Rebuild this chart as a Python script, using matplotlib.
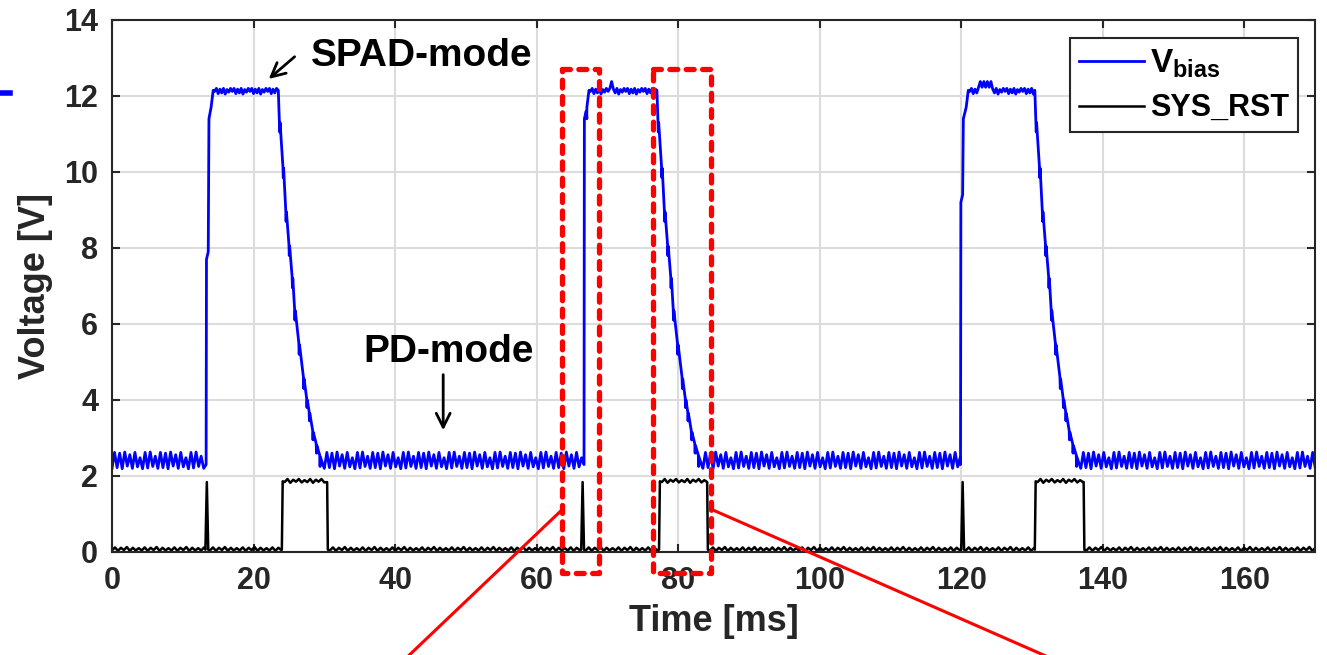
import numpy as np
import matplotlib.pyplot as plt
from matplotlib.lines import Line2D

plt.rcParams['font.family'] = ['Liberation Sans', 'DejaVu Sans']
plt.rcParams['mathtext.fontset'] = 'custom'
plt.rcParams['mathtext.bf'] = 'Liberation Sans:bold'
plt.rcParams['mathtext.rm'] = 'Liberation Sans:bold'

# ---- values (time in ms, voltage in V) ----
# V_bias pulses
pulse_rise = [13.3, 66.7, 119.9]      # rising edge
rise_step = [7.7, 11.4, 9.2]          # intermediate step on the rising edge
top_start = [14.3, 67.4, 121.0]
top_end = [23.5, 77.0, 130.4]
# falling edge shape (relative to top_end)
fall_dt = [0.0, 0.15, 0.2, 0.25, 0.65, 0.7, 0.75, 1.05, 1.1, 1.15, 1.5, 1.55, 1.6,
           1.95, 2.0, 2.05, 2.3, 2.35, 2.4, 2.9, 2.95, 3.0, 3.55, 3.6, 3.65, 4.0,
           4.05, 4.1, 4.35, 4.4, 4.45, 4.85, 4.9, 4.95, 5.35, 5.4, 5.45, 5.85,
           5.9, 5.95, 6.3]
fall_v = [12.15, 11.35, 11.05, 11.3, 10.15, 9.85, 10.1, 9.0, 8.7, 8.95, 8.1, 7.8,
          8.05, 7.25, 6.95, 7.2, 6.4, 6.1, 6.35, 5.5, 5.2, 5.45, 4.6, 4.3, 4.55,
          4.05, 3.8, 4.0, 3.7, 3.45, 3.65, 3.2, 2.95, 3.15, 2.85, 2.6, 2.8, 2.55,
          2.25, 2.5, 2.3]
vb_low_ripple = [2.2, 2.62, 2.22, 2.6, 2.19, 2.63, 2.26, 2.56, 2.2, 2.62, 2.24,
                 2.48, 2.19, 2.62, 2.21, 2.63, 2.25, 2.52]
vb_top_ripple = [12.12, 12.2, 12.06, 12.18, 12.08, 12.2, 12.05, 12.17, 12.1, 12.2]
vb_top_bump = [None, (70.4, 70.7, 12.38), (122.4, 124.2, 12.38)]

# SYS_RST
rst_spike = [13.4, 66.5, 120.2]
spike_h = 1.84
rst_on = [24.0, 77.3, 130.4]
rst_off = [30.5, 84.2, 137.4]
rst_low_ripple = [0.04, 0.12, 0.03, 0.11, 0.05, 0.13, 0.03, 0.11, 0.04, 0.1]
rst_high_ripple = [1.84, 1.92, 1.82, 1.9, 1.85, 1.92, 1.83, 1.89]

t_end = 170


def ripple(t0, t1, step, pattern):
    t = np.arange(t0, t1, step)
    return list(t), list(np.resize(pattern, len(t)))


# build V_bias trace
vt, vv = [], []
t_prev = 0.0
for i in range(3):
    a, b = ripple(t_prev, pulse_rise[i], 0.36, vb_low_ripple)
    vt += a; vv += b
    r = pulse_rise[i]
    vt += [r, r + 0.05, r + 0.3, r + 0.4, top_start[i] - 0.3, top_start[i]]
    vv += [2.3, rise_step[i], rise_step[i] + 0.2, 11.4, 11.7, 12.15]
    a, b = ripple(top_start[i] + 0.2, top_end[i], 0.25, vb_top_ripple)
    if vb_top_bump[i] is not None:
        b0, b1, bh = vb_top_bump[i]
        b = [bh - (k % 2) * 0.15 if b0 <= tt <= b1 else vv_
             for k, (tt, vv_) in enumerate(zip(a, b))]
    vt += a; vv += b
    vt += [top_end[i] + d for d in fall_dt]
    vv += fall_v
    t_prev = top_end[i] + fall_dt[-1] + 0.2
a, b = ripple(t_prev, t_end + 0.5, 0.36, vb_low_ripple)
vt += a; vv += b

# build SYS_RST trace
st, sv = [], []
t_prev = 0.0
for i in range(3):
    a, b = ripple(t_prev, rst_spike[i] - 0.2, 0.42, rst_low_ripple)
    st += a; sv += b
    st += [rst_spike[i] - 0.2, rst_spike[i], rst_spike[i] + 0.2]
    sv += [0.06, spike_h, 0.06]
    a, b = ripple(rst_spike[i] + 0.45, rst_on[i], 0.42, rst_low_ripple)
    st += a; sv += b
    st += [rst_on[i], rst_on[i] + 0.12]
    sv += [0.06, 1.86]
    a, b = ripple(rst_on[i] + 0.4, rst_off[i] - 0.1, 0.4, rst_high_ripple)
    st += a; sv += b
    st += [rst_off[i] - 0.1, rst_off[i]]
    sv += [1.84, 0.06]
    t_prev = rst_off[i] + 0.3
a, b = ripple(t_prev, t_end + 0.5, 0.42, rst_low_ripple)
st += a; sv += b

# ---- figure ----
fig = plt.figure(figsize=(13.27, 6.55), dpi=100)
ax = fig.add_axes([0.0844, 0.1573, 0.9066, 0.8122])

l1, = ax.plot(vt, vv, color='#0000ff', lw=2.0, label=r'$\mathbf{V_{bias}}$')
l2, = ax.plot(st, sv, color='black', lw=1.8, label='SYS_RST')

ax.set_xlim(0, 170)
ax.set_ylim(0, 14)
ax.set_xticks(range(0, 161, 20))
ax.set_yticks(range(0, 15, 2))
ax.grid(True, color='#dcdcdc', lw=1.5)
ax.set_axisbelow(True)
for s in ax.spines.values():
    s.set_linewidth(1.5)
    s.set_color('#262626')
ax.tick_params(direction='in', length=6, width=1.5, top=True, right=True,
               labelsize=22, colors='#262626', pad=10)
for lab in ax.get_xticklabels() + ax.get_yticklabels():
    lab.set_fontweight('bold')
ax.set_xlabel('Time [ms]', fontsize=26, weight='bold', color='#262626', labelpad=6)
ax.set_ylabel('Voltage [V]', fontsize=26, weight='bold', color='#262626', labelpad=8)

leg = ax.legend(handles=[l1, l2], loc='upper right',
                bbox_to_anchor=(1298 / 1327, 1 - 38 / 655),
                bbox_transform=fig.transFigure, fontsize=22, frameon=True,
                fancybox=False, framealpha=1, edgecolor='#262626',
                handlelength=2.1, handletextpad=0.2, borderpad=0.3,
                labelspacing=0.45, borderaxespad=0)
leg.get_frame().set_linewidth(1.5)
for txt in leg.get_texts():
    txt.set_fontweight('bold')
leg.get_texts()[0].set_fontsize(24)

# annotations
ax.annotate('', xy=(21.85, 12.40), xytext=(26.1, 13.08),
            arrowprops=dict(arrowstyle='->', lw=2, color='black', mutation_scale=25))
ax.text(28.1, 12.79, 'SPAD-mode', fontsize=28, weight='bold', ha='left', va='baseline')
ax.annotate('', xy=(46.8, 3.13), xytext=(46.8, 4.74),
            arrowprops=dict(arrowstyle='->', lw=2, color='black', mutation_scale=25))
ax.text(35.5, 5.0, 'PD-mode', fontsize=28, weight='bold', ha='left', va='baseline')

# red dashed zoom boxes and leader lines
for x0, x1 in [(63.6, 68.8), (76.4, 84.7)]:
    ax.plot([x0, x1, x1, x0, x0], [12.7, 12.7, -0.55, -0.55, 12.7], color='red',
            lw=3.8, ls=(0, (1.5, 1.6)), dash_capstyle='round', clip_on=False, zorder=5)
ax.plot([63.7, 41.8], [1.13, -2.75], color='red', lw=2.2, clip_on=False, zorder=5)
ax.plot([84.6, 132.1], [1.13, -2.75], color='red', lw=2.2, clip_on=False, zorder=5)

# stray blue mark at the left edge
fig.add_artist(Line2D([0, 10 / 1327], [1 - 93 / 655] * 2, color='#0000ff', lw=4))

fig.savefig('out.png', dpi=100)
